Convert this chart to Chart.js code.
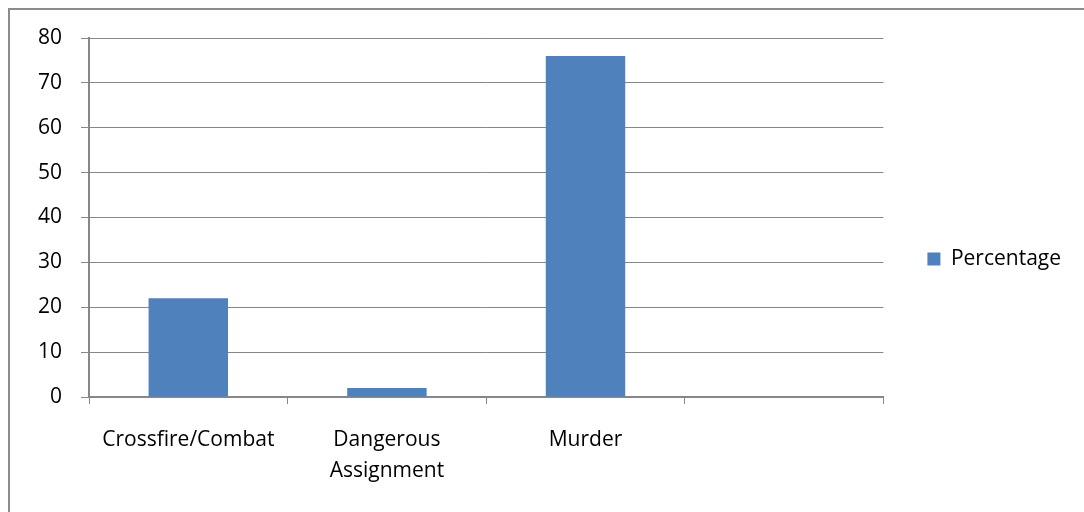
<!DOCTYPE html>
<html>
<head>
<meta charset="utf-8">
<script src="https://cdn.jsdelivr.net/npm/chart.js@4.4.1/dist/chart.umd.min.js"></script>
<style>
  html, body { margin: 0; padding: 0; background: #ffffff; overflow: hidden; width: 1084px; height: 512px; }
  #frame { position: absolute; left: 8px; top: 8px; width: 1200px; height: 600px; border: 2px solid #8c8c8c; box-sizing: border-box; }
  #c { position: absolute; left: 0; top: 0; }
</style>
</head>
<body>
<div id="frame"></div>
<canvas id="c" width="1071" height="512" style="width:1071px;height:512px"></canvas>
<script>
const categories = ["Crossfire/Combat", ["Dangerous", "Assignment"], "Murder", ""];
const seriesName = "Percentage";
const percentages = [22, 2, 76, null];
const yTicks = [0, 10, 20, 30, 40, 50, 60, 70, 80];

const FONT = "'Open Sans', sans-serif";
const GRID = "#878787";

new Chart(document.getElementById("c"), {
  type: "bar",
  data: {
    labels: categories,
    datasets: [{
      label: seriesName,
      data: percentages,
      backgroundColor: "#4F81BD",
      borderWidth: 0,
      barPercentage: 0.4,
      categoryPercentage: 1.0
    }]
  },
  options: {
    responsive: false,
    animation: false,
    devicePixelRatio: 1,
    layout: { padding: { top: 6, left: 0, right: 0, bottom: 0 } },
    plugins: {
      tooltip: { enabled: false },
      title: {
        display: true,
        text: "",
        fullSize: false,
        font: { size: 10, lineHeight: 1 },
        padding: { top: 22, bottom: 0 }
      },
      legend: {
        position: "right",
        labels: {
          boxWidth: 13,
          boxHeight: 13,
          padding: 44,
          color: "#000000",
          font: { family: FONT, size: 21 }
        }
      }
    },
    scales: {
      x: {
        offset: true,
        grid: {
          offset: true,
          drawOnChartArea: false,
          drawTicks: true,
          tickLength: 7,
          color: GRID,
          lineWidth: 1
        },
        border: { display: true, color: GRID, width: 2 },
        ticks: {
          color: "#000000",
          font: { family: FONT, size: 21, lineHeight: 1.45 },
          padding: 21,
          maxRotation: 0,
          autoSkip: false
        },
        afterFit: s => { s.height = 115; }
      },
      y: {
        min: 0,
        max: 80,
        afterBuildTicks: s => { s.ticks = yTicks.map(v => ({ value: v })); },
        grid: {
          color: GRID,
          lineWidth: 1,
          drawTicks: true,
          tickLength: 8
        },
        border: { display: true, color: GRID, width: 2 },
        ticks: {
          color: "#000000",
          font: { family: FONT, size: 21 },
          padding: 19
        },
        afterFit: s => { s.width = 89; }
      }
    }
  }
});
</script>
</body>
</html>
